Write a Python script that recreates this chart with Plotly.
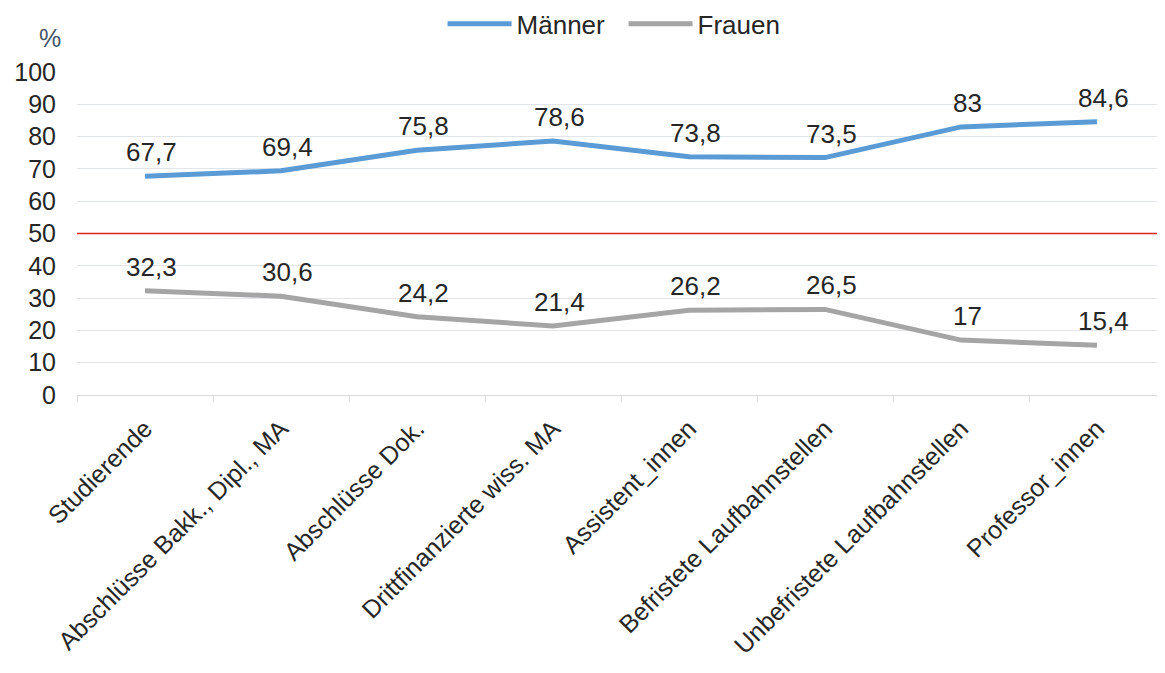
import plotly.graph_objects as go

categories = ["Studierende", "Abschlüsse Bakk., Dipl., MA", "Abschlüsse Dok.",
              "Drittfinanzierte wiss. MA", "Assistent_innen", "Befristete Laufbahnstellen",
              "Unbefristete Laufbahnstellen", "Professor_innen"]
maenner = [67.7, 69.4, 75.8, 78.6, 73.8, 73.5, 83, 84.6]
frauen = [32.3, 30.6, 24.2, 21.4, 26.2, 26.5, 17, 15.4]
y_ticks = [0, 10, 20, 30, 40, 50, 60, 70, 80, 90, 100]
reference_line = 50

def fmt(v):
    return ("%g" % v).replace(".", ",")

FONT = "Liberation Sans, Arial, sans-serif"
TXT = "#262626"
fig = go.Figure()
fig.add_trace(go.Scatter(x=categories, y=maenner, name="Männer", mode="lines",
                         line=dict(color="#5B9BD5", width=5)))
fig.add_trace(go.Scatter(x=categories, y=frauen, name="Frauen", mode="lines",
                         line=dict(color="#A5A5A5", width=5)))
for series in (maenner, frauen):
    for c, v in zip(categories, series):
        fig.add_annotation(x=c, y=v, xref="x", yref="y", text=fmt(v), showarrow=False,
                           yanchor="middle", yshift=24, xshift=6,
                           font=dict(size=26, color=TXT, family=FONT))
fig.add_shape(type="line", xref="paper", x0=0, x1=1, yref="y", y0=reference_line, y1=reference_line,
              line=dict(color="#D9261C", width=1.4), layer="above")
fig.add_annotation(text="%", xref="paper", yref="paper", x=-0.025, y=1.105, showarrow=False,
                   xanchor="center", yanchor="middle",
                   font=dict(size=25, color="#44546A", family=FONT))
fig.update_layout(
    width=1157, height=665,
    margin=dict(l=69, r=0, t=64, b=278, autoexpand=False),
    plot_bgcolor="white", paper_bgcolor="white",
    font=dict(family=FONT, color=TXT),
    showlegend=True,
    legend=dict(orientation="h", x=0.336, xanchor="left", y=1.149, yanchor="middle",
                font=dict(size=26, color=TXT, family=FONT), itemwidth=64, tracegroupgap=0,
                entrywidth=102, entrywidthmode="pixels"),
    xaxis=dict(range=[-0.5, 7.5], tickangle=-45, tickson="boundaries", ticks="outside", ticklen=6,
               tickcolor="#D9D9D9", showline=True, linecolor="#D9D9D9", showgrid=False,
               ticklabelstandoff=8,
               tickfont=dict(size=25, color=TXT, family=FONT)),
    yaxis=dict(range=[0, 100], tickvals=y_ticks, showgrid=True, gridcolor="#E1E5EA",
               zeroline=False, ticks="", ticklabelstandoff=20,
               tickfont=dict(size=25, color=TXT, family=FONT)),
)
fig.write_html("out.html")
